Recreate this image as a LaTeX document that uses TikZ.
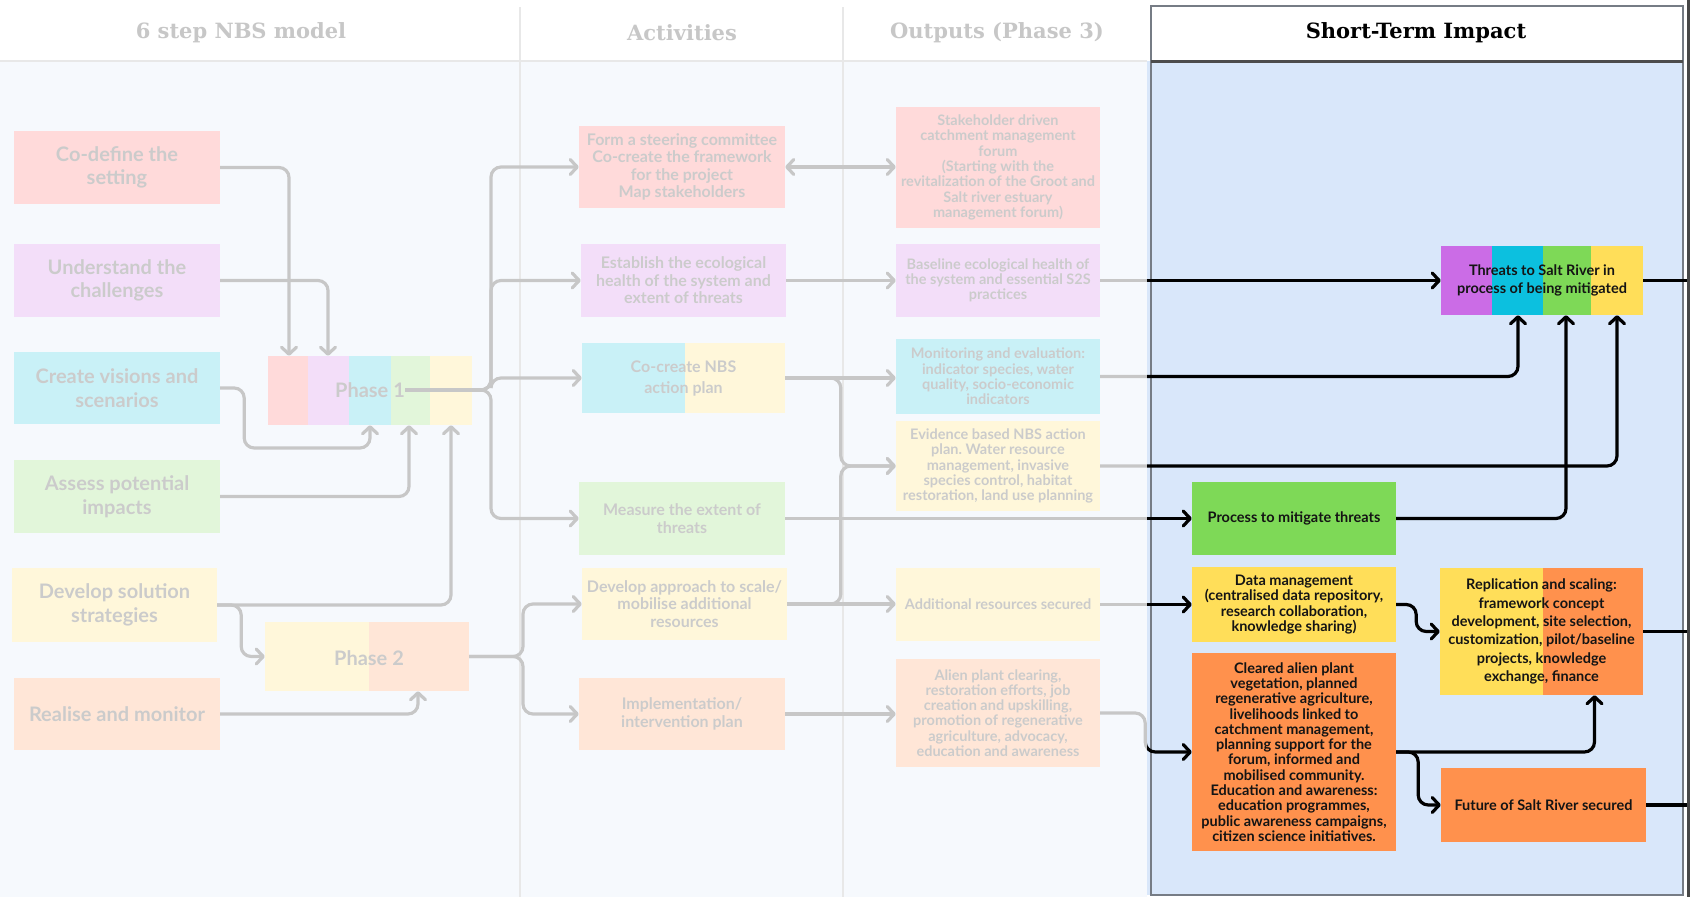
\documentclass[tikz,border=0pt]{standalone}
\usepackage{fontspec}
\setmainfont{Lato}
\newfontfamily\headfont{DejaVu Serif}
\usetikzlibrary{arrows.meta}
\frenchspacing
\definecolor{cred}{HTML}{FF5757}
\definecolor{cpur}{HTML}{CB6CE6}
\definecolor{ccya}{HTML}{0CC0DF}
\definecolor{cgre}{HTML}{7ED957}
\definecolor{cyel}{HTML}{FFDE59}
\definecolor{cora}{HTML}{FF914D}
\definecolor{cbg}{HTML}{D9E7FA}
\definecolor{cdiv}{HTML}{999999}
\definecolor{cbrd}{HTML}{767C85}
\definecolor{ctxt}{HTML}{141414}
\newcommand\fsix{\fontsize{20}{23.5}\selectfont\bfseries}
\newcommand\fact{\fontsize{16}{17.4}\selectfont\bfseries}
\newcommand\fccn{\fontsize{16}{21}\selectfont\bfseries}
\newcommand\fout{\fontsize{14.5}{15.3}\selectfont\bfseries}
\newcommand\fstw{\fontsize{14.5}{18.3}\selectfont\bfseries}
\newcommand\fhead{\headfont\fontsize{21}{24}\selectfont\bfseries}
\tikzset{
  bx/.style={inner sep=0pt, align=center, text=ctxt},
  con/.style={line width=3.2pt, rounded corners=10pt, draw=black, -{Straight Barb[length=7pt,width=15pt,round]}},
  dcon/.style={line width=3.2pt, draw=black, {Straight Barb[length=7pt,width=15pt,round]}-{Straight Barb[length=7pt,width=15pt,round]}},
  ln/.style={line width=3.2pt, rounded corners=10pt, draw=black},
  hd/.style={inner sep=0pt, font=\fhead},
}
\begin{document}
\begin{tikzpicture}[x=1pt,y=-1pt]
\useasboundingbox (0,0) rectangle (1690,897);
% backgrounds
\fill[white] (0,0) rectangle (1690,897);
\fill[cbg] (0,61) rectangle (1147,897);
% short-term column
\fill[cbg] (1147,61) rectangle (1683,895);
\fill[white] (1151,6) rectangle (1683,61);
\draw[cbrd, line width=2pt] (1151,6) rectangle (1683,895);
\draw[black!70, line width=3pt] (1151,61) -- (1683,61);
% dividers
\draw[cdiv, line width=1.5pt] (0,61) -- (1147,61);
\draw[cdiv, line width=1.5pt] (520,7) -- (520,897);
\draw[cdiv, line width=1.5pt] (843,7) -- (843,897);
% headers
\node[hd] (h1) at (241,33) {6 step NBS model};
\node[hd] (h2) at (682,33) {Activities};
\node[hd] (h3) at (997,33) {Outputs (Phase 3)};
\node[hd] (h4) at (1416,33) {Short-Term Impact};

% ---------- 6 step column ----------
\node[bx,fill=cred,minimum width=206pt,minimum height=73pt,font=\fsix] (cod) at (117,167.5) {Co-define the\\setting};
\node[bx,fill=cpur,minimum width=206pt,minimum height=73pt,font=\fsix] (und) at (117,280.5) {Understand the\\challenges};
\node[bx,fill=ccya,minimum width=206pt,minimum height=72pt,font=\fsix] (cvs) at (117,388) {Create visions and\\scenarios};
\node[bx,fill=cgre,minimum width=206pt,minimum height=73pt,font=\fsix] (asp) at (117,496.5) {Assess potential\\impacts};
\node[bx,fill=cyel,minimum width=205pt,minimum height=74pt,font=\fsix] (dss) at (114.5,605) {Develop solution\\strategies};
\node[bx,fill=cora,minimum width=206pt,minimum height=72pt,font=\fsix] (ram) at (117,714) {Realise and monitor};

\fill[cred] (268,356) rectangle (308,425);
\fill[cpur] (308,356) rectangle (349,425);
\fill[ccya] (349,356) rectangle (391,425);
\fill[cgre] (391,356) rectangle (430,425);
\fill[cyel] (430,356) rectangle (472,425);
\node[bx,minimum width=204pt,minimum height=69pt] (ph1) at (370,390.5) {};
\node[inner sep=0pt,font=\fsix,text=ctxt] (ph1t) at (370,390) {Phase 1};

\fill[cyel] (265,622) rectangle (369,691);
\fill[cora] (369,622) rectangle (469,691);
\node[bx,minimum width=204pt,minimum height=69pt] (ph2) at (367,656.5) {};
\node[inner sep=0pt,font=\fsix,text=ctxt] (ph2t) at (369,658) {Phase 2};

% ---------- Activities ----------
\node[bx,fill=cred,minimum width=206pt,minimum height=82pt,font=\fact] (form) at (682,167) {Form a steering committee\\Co-create the framework\\for the project\\Map stakeholders};
\node[bx,fill=cpur,minimum width=205pt,minimum height=73pt,font=\fact] (est) at (683.5,280.5) {Establish the ecological\\health of the system and\\extent of threats};
\fill[ccya] (582,343) rectangle (685,413);
\fill[cyel] (685,343) rectangle (785,413);
\node[bx,minimum width=203pt,minimum height=70pt,font=\fccn] (ccn) at (683.5,378) {Co-create NBS\\action plan};
\node[bx,fill=cgre,minimum width=206pt,minimum height=73pt,font=\fact] (mea) at (682,518.5) {Measure the extent of\\threats};
\node[bx,fill=cyel,minimum width=205pt,minimum height=72pt,font=\fact] (dap) at (684.5,604) {Develop approach to scale/\\mobilise additional\\resources};
\node[bx,fill=cora,minimum width=206pt,minimum height=72pt,font=\fact] (imp) at (682,714) {Implementation/\\intervention plan};

% ---------- Outputs ----------
\node[bx,fill=cred,minimum width=204pt,minimum height=121pt,font=\fout] (stk) at (998,167.5) {Stakeholder driven\\catchment management\\forum\\(Starting with the\\revitalization of the Groot and\\Salt river estuary\\management forum)};
\node[bx,fill=cpur,minimum width=204pt,minimum height=73pt,font=\fout] (bas) at (998,280.5) {Baseline ecological health of\\the system and essential S2S\\practices};
\node[bx,fill=ccya,minimum width=204pt,minimum height=75pt,font=\fout] (mon) at (998,376.5) {Monitoring and evaluation:\\indicator species, water\\quality, socio-economic\\indicators};
\node[bx,fill=cyel,minimum width=204pt,minimum height=90pt,font=\fout] (evi) at (998,466) {Evidence based NBS action\\plan. Water resource\\management, invasive\\species control, habitat\\restoration, land use planning};
\node[bx,fill=cyel,minimum width=204pt,minimum height=73pt,font=\fout] (add) at (998,604.5) {Additional resources secured};
\node[bx,fill=cora,minimum width=204pt,minimum height=108pt,font=\fout] (ali) at (998,713) {Alien plant clearing,\\restoration efforts, job\\creation and upskilling,\\promotion of regenerative\\agriculture, advocacy,\\education and awareness};

% ---------- Short-Term Impact ----------
\fill[cpur] (1441,246) rectangle (1492,315);
\fill[ccya] (1492,246) rectangle (1543,315);
\fill[cgre] (1543,246) rectangle (1591,315);
\fill[cyel] (1591,246) rectangle (1643,315);
\node[bx,minimum width=202pt,minimum height=69pt,font=\fstw] (thr) at (1542,280.5) {Threats to Salt River in\\process of being mitigated};
\node[bx,fill=cgre,minimum width=204pt,minimum height=73pt,font=\fout] (pro) at (1294,518.5) {Process to mitigate threats};
\node[bx,fill=cyel,minimum width=204pt,minimum height=75pt,font=\fout] (dat) at (1294,604.5) {Data management\\(centralised data repository,\\research collaboration,\\knowledge sharing)};
\node[bx,fill=cora,minimum width=204pt,minimum height=198pt,font=\fout] (cle) at (1294,752) {Cleared alien plant\\vegetation, planned\\regenerative agriculture,\\livelihoods linked to\\catchment management,\\planning support for the\\forum, informed and\\mobilised community.\\Education and awareness:\\education programmes,\\public awareness campaigns,\\citizen science initiatives.};
\fill[cyel] (1440,568) rectangle (1543,695);
\fill[cora] (1543,568) rectangle (1643,695);
\node[bx,minimum width=203pt,minimum height=127pt,font=\fstw] (rep) at (1541.5,631.5) {Replication and scaling:\\framework concept\\development, site selection,\\customization, pilot/baseline\\projects, knowledge\\exchange, finance};
\node[bx,fill=cora,minimum width=205pt,minimum height=74pt,font=\fout] (fut) at (1543.5,805) {Future of Salt River secured};

\coordinate (sp1) at (491,390);
\coordinate (sp2) at (523,656.5);
\coordinate (e1) at (1690,280.5);
\coordinate (e2) at (1690,631.5);
\coordinate (e3) at (1690,805);

% ---------- connectors ----------
\draw[con] (cod.east) -| ([xshift=-81pt]ph1.north);
\draw[con] (und.east) -| ([xshift=-42pt]ph1.north);
\draw[con] (cvs.east) -- ++(24,0) -- ++(0,60) -| (ph1.south);
\draw[con] (asp.east) -| ([xshift=39pt]ph1.south);
\draw[con] (dss.east) -| ([xshift=81pt]ph1.south);
\draw[con] (dss.east) -- ++(24,0) |- (ph2.west);
\draw[con] (ram.east) -| ([xshift=51pt]ph2.south);

\draw[con] (ph1t.east) -- (sp1) |- (form.west);
\draw[con] (ph1t.east) -- (sp1) |- (est.west);
\draw[con] (ph1t.east) -- (sp1) |- (ccn.west);
\draw[con] (ph1t.east) -- (sp1) |- (mea.west);
\draw[con] (ph2.east) -- (sp2) |- (dap.west);
\draw[con] (ph2.east) -- (sp2) |- (imp.west);

\draw[dcon] (form.east) -- (form.east -| stk.west);
\draw[con] (est.east) -- (est.east -| bas.west);
\draw[con] (ccn.east) -- (ccn.east -| mon.west);
\draw[con] (ccn.east) -| ([xshift=-55pt]evi.west) -- (evi.west);
\draw[con] (dap.east) -| ([xshift=-55pt]evi.west) -- (evi.west);
\draw[con] (dap.east) -- (dap.east -| add.west);
\draw[con] (imp.east) -- (imp.east -| ali.west);
\draw[con] (mea.east) -- (mea.east -| pro.west);

\draw[con] (bas.east) -- (bas.east -| thr.west);
\draw[con] (mon.east) -| ([xshift=-24pt]thr.south);
\draw[con] (evi.east) -| ([xshift=75pt]thr.south);
\draw[con] (pro.east) -| ([xshift=24pt]thr.south);
\draw[ln] (thr.east) -- (e1);
\draw[con] (add.east) -- (add.east -| dat.west);
\draw[con] (ali.east) -- ++(45,0) |- (cle.west);
\draw[con] (dat.east) -- ++(20,0) |- (rep.west);
\draw[con] (cle.east) -| ([xshift=53pt]rep.south);
\draw[con] (cle.east) -- ++(22,0) |- (fut.west);
\draw[ln] (rep.east) -- (e2);
\draw[ln] (fut.east) -- (e3);

% fade overlay on the left part
\fill[white, fill opacity=0.78] (0,0) rectangle (1147,897);
% right screen edge
\fill[black!72] (1686.5,0) rectangle (1690,897);
\end{tikzpicture}
\end{document}
